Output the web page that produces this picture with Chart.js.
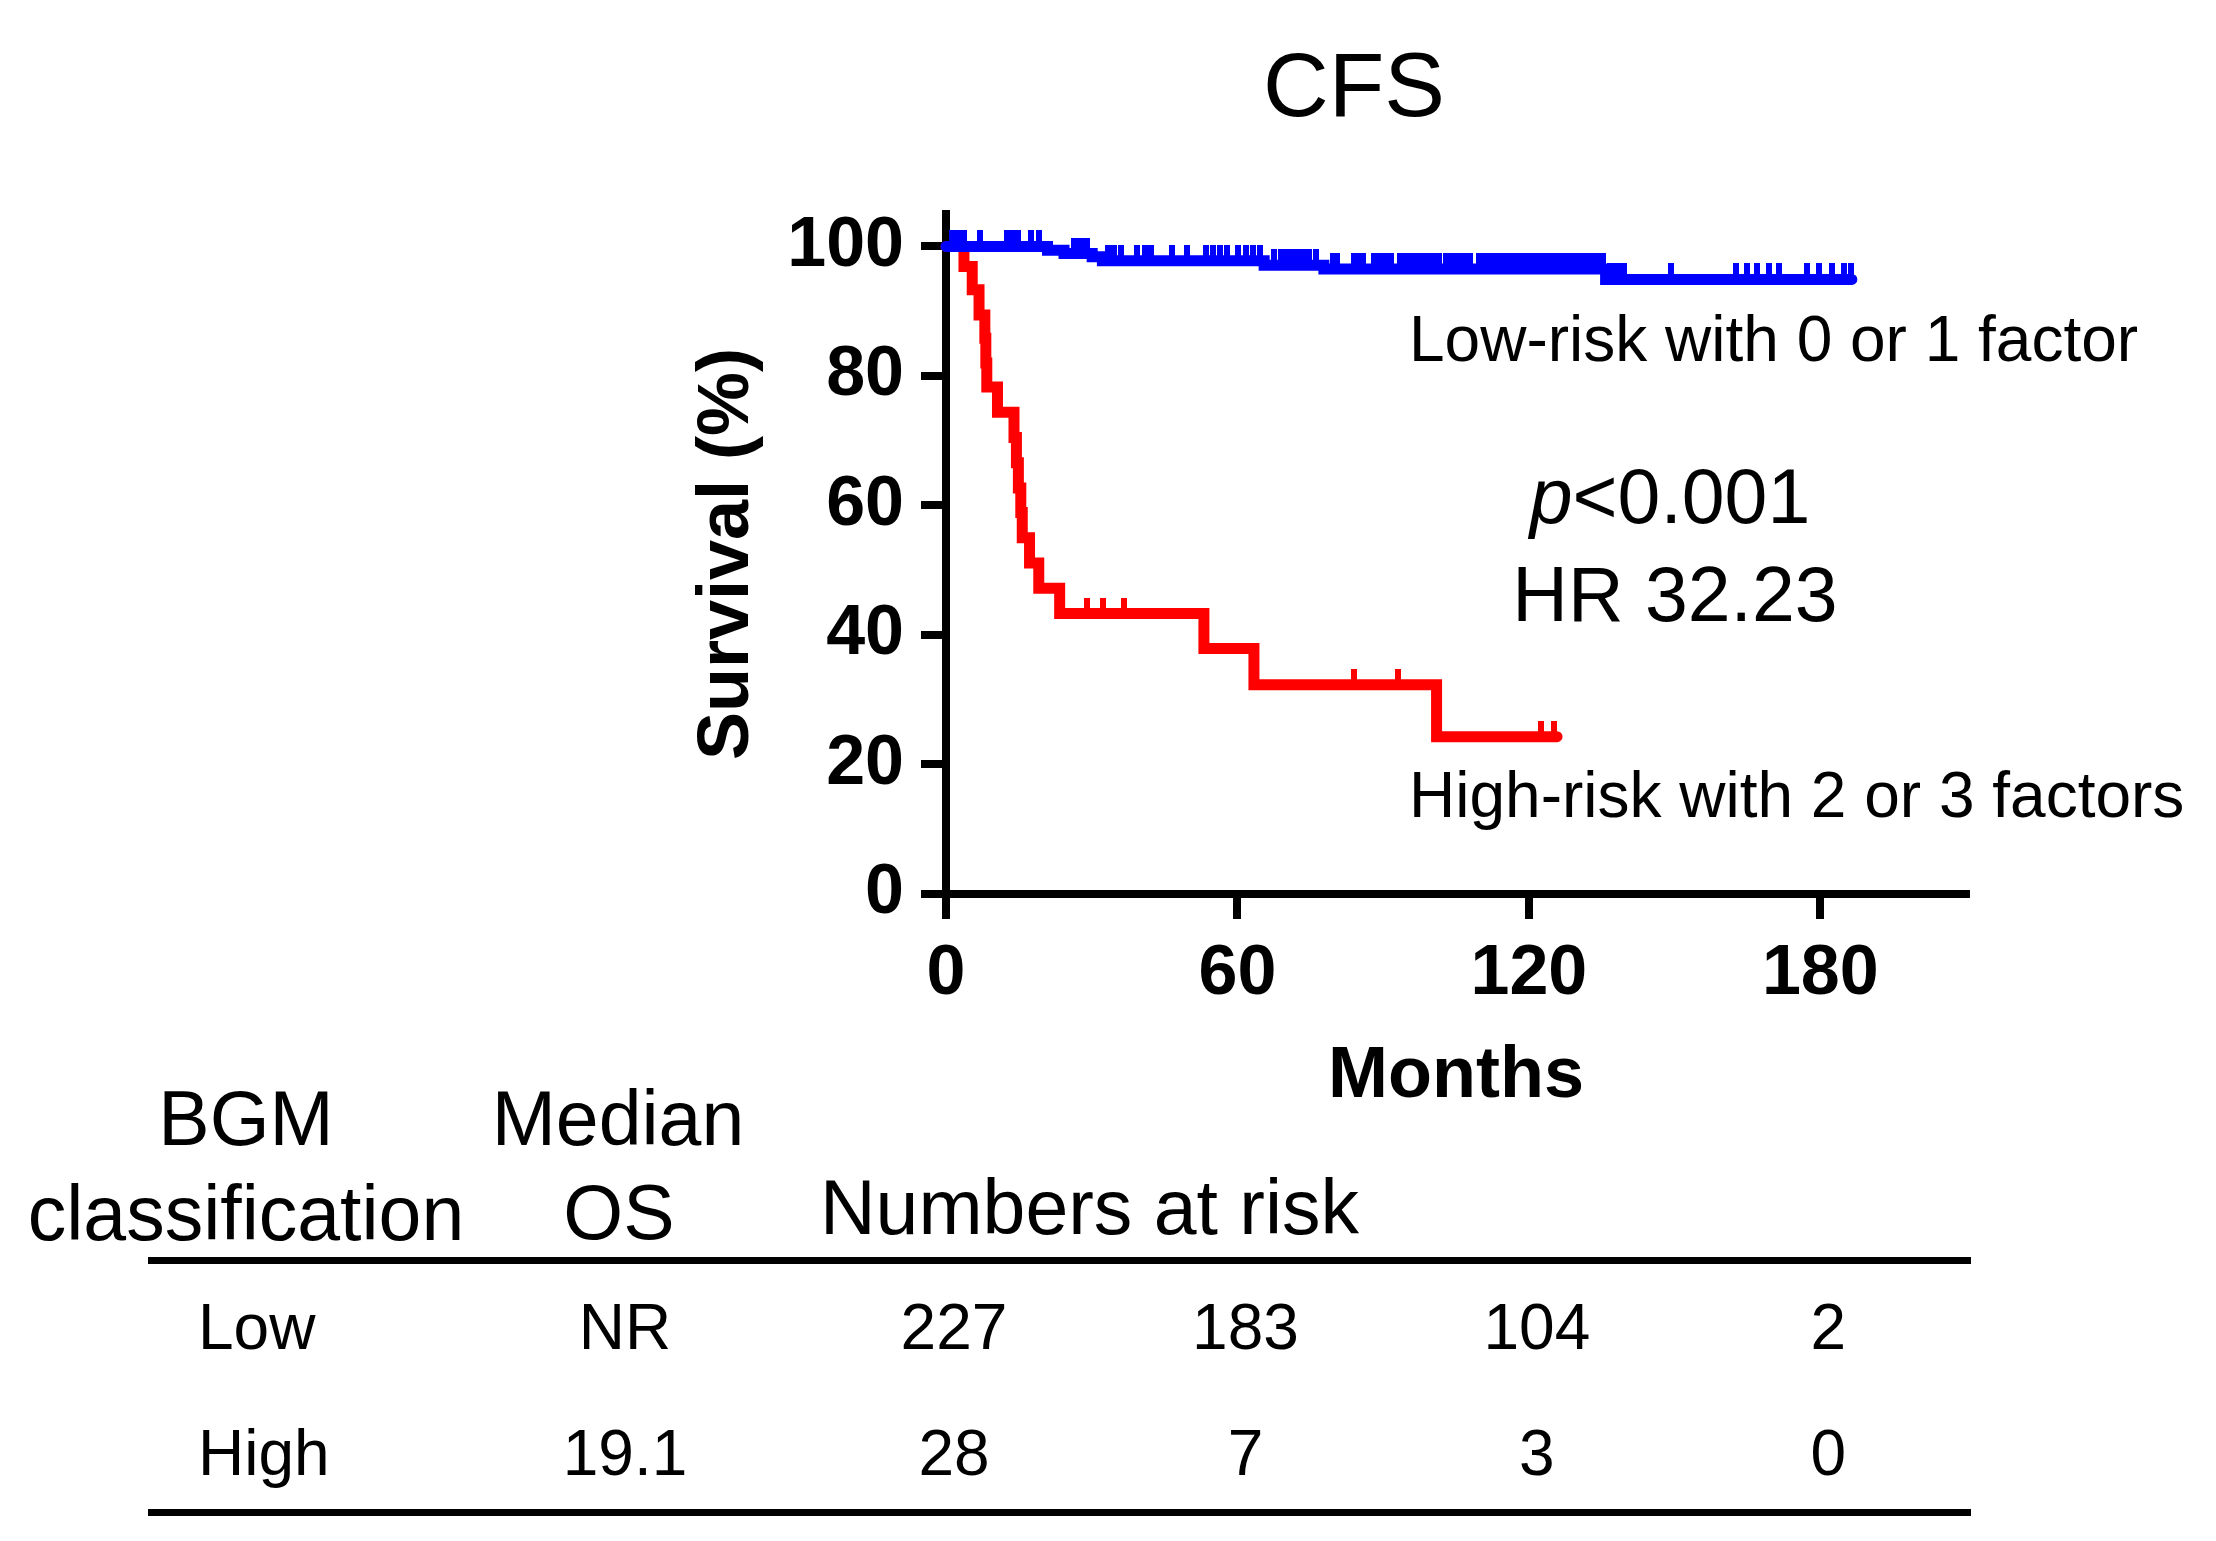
<!DOCTYPE html>
<html>
<head>
<meta charset="utf-8">
<script src="https://cdn.jsdelivr.net/npm/chart.js@4.4.1/dist/chart.umd.min.js"></script>
<style>
  html, body { margin: 0; padding: 0; background: #fff; }
  canvas { display: block; }
</style>
</head>
<body>
<canvas id="km" width="2216" height="1541"></canvas>
<script>
// Kaplan-Meier CFS: low vs high risk
const lowTimes = [0, 20.9, 24.3, 30.1, 32.2, 65.5, 77.8, 135.8, 186.5];
const lowSurv  = [100, 99.4, 98.9, 98.4, 97.8, 97.1, 96.5, 94.9, 94.9];
const lowCensor = [
  1.2, 2.1, 2.9, 3.7, 7.1, 12.6, 13.7, 14.8, 17.4, 19.1,
  26.4, 27.3, 28.2, 29.1,
  33.3, 34.6, 36.0, 39.4, 41.0, 42.3, 46.5, 49.6, 53.5, 54.9, 56.4, 57.9, 60.1, 61.7, 63.2, 64.7,
  67.6, 68.9, 70.1, 71.2, 72.5, 73.7, 74.8, 76.1,
  79.6, 80.6, 84.0, 84.9, 85.8, 88.1, 89.0, 89.9, 90.8, 91.7,
  93.4, 94.2, 95.0, 95.8, 96.6, 97.4, 98.2, 99.0, 99.8, 100.6, 101.4,
  103.0, 103.8, 104.6, 105.4, 106.2, 107.0, 107.8,
  109.8, 110.6, 111.4, 112.2, 113.0, 113.8, 114.6, 115.4, 116.2, 117.0, 117.8, 118.6, 119.4,
  120.2, 121.0, 121.8, 122.6, 123.4, 124.2, 125.0, 125.8, 126.6, 127.4, 128.2, 129.0, 129.8,
  130.6, 131.4, 132.2, 133.0, 133.8, 134.6, 135.3,
  136.8, 137.7, 138.6, 139.5, 149.2, 162.6, 165.0, 167.0, 169.4, 171.5, 177.3, 179.7, 182.4, 184.8, 186.3
];

const highTimes = [0, 3.7, 5.4, 6.8, 8.0, 8.2, 8.4, 10.6, 14.0, 14.5, 14.9, 15.4, 15.7, 17.2, 19.1, 23.4, 53.1, 63.4, 101.0, 125.8];
const highSurv  = [100, 96.9, 93.3, 89.4, 85.8, 82.0, 78.3, 74.4, 70.5, 66.6, 62.7, 58.9, 55.0, 51.1, 47.2, 43.3, 37.9, 32.3, 24.3, 24.3];
const highCensor = [29.1, 32.4, 36.7, 83.9, 93.1, 122.4, 125.2];

const xTicks = [0, 60, 120, 180];
const yTicks = [0, 20, 40, 60, 80, 100];

// numbers at risk table
const riskGroups = ['Low', 'High'];
const medianOS = ['NR', '19.1'];
const riskLow = [227, 183, 104, 2];
const riskHigh = [28, 7, 3, 0];

const FONT = '"Liberation Sans", Arial, sans-serif';
const BLUE = '#0000ff';
const RED = '#ff0000';

// survival value of a step curve at time t
const survAt = (times, surv, t) => {
  let v = surv[0];
  for (let i = 0; i < times.length; i++) {
    if (times[i] <= t) v = surv[i];
  }
  return v;
};

// censor mark: short vertical tick sitting on top of the line
const makeTick = (color) => {
  const c = document.createElement('canvas');
  c.width = 6;
  c.height = 32;
  const g = c.getContext('2d');
  g.fillStyle = color;
  g.fillRect(0, 0, 6, 16);
  return c;
};

const textPlugin = {
  id: 'kmText',
  afterDraw(chart) {
    const ctx = chart.ctx;
    const xs = chart.scales.x;
    ctx.save();
    ctx.fillStyle = '#000';
    ctx.textBaseline = 'alphabetic';

    // title
    ctx.font = '91px ' + FONT;
    ctx.textAlign = 'center';
    ctx.fillText('CFS', 1354, 116);

    // curve labels
    ctx.font = '64px ' + FONT;
    ctx.textAlign = 'left';
    ctx.fillText('Low-risk with 0 or 1 factor', 1409, 361);
    ctx.fillText('High-risk with 2 or 3 factors', 1409, 817);

    // p value and HR
    ctx.font = 'italic 77px ' + FONT;
    const wp = ctx.measureText('p').width;
    ctx.font = '77px ' + FONT;
    const wr = ctx.measureText('<0.001').width;
    const px = 1670 - (wp + wr) / 2;
    ctx.font = 'italic 77px ' + FONT;
    ctx.fillText('p', px, 523);
    ctx.font = '77px ' + FONT;
    ctx.fillText('<0.001', px + wp, 523);
    ctx.textAlign = 'center';
    ctx.fillText('HR 32.23', 1675, 621);

    // table header
    ctx.font = '77px ' + FONT;
    ctx.fillText('BGM', 246, 1145);
    ctx.fillText('classification', 246, 1240);
    ctx.fillText('Median', 618, 1145);
    ctx.fillText('OS', 619, 1239);
    ctx.textAlign = 'left';
    ctx.fillText('Numbers at risk', 820, 1234);

    ctx.fillRect(148, 1257, 1823, 7);
    ctx.fillRect(148, 1509, 1823, 7);

    // table rows
    const rows = [riskLow, riskHigh];
    const baselines = [1349, 1475];
    ctx.font = '64px ' + FONT;
    riskGroups.forEach((g, r) => {
      ctx.textAlign = 'left';
      ctx.fillText(g, 198, baselines[r]);
      ctx.textAlign = 'center';
      ctx.fillText(medianOS[r], 625, baselines[r]);
      rows[r].forEach((n, i) => {
        ctx.fillText(String(n), xs.getPixelForValue(xTicks[i]) + 8, baselines[r]);
      });
    });
    ctx.restore();
  }
};

const tickFont = { family: FONT, size: 70, weight: 'bold' };

new Chart(document.getElementById('km'), {
  type: 'line',
  data: {
    datasets: [
      {
        label: 'Low-risk',
        data: lowTimes.map((t, i) => ({ x: t, y: lowSurv[i] })),
        borderColor: BLUE,
        borderWidth: 11,
        stepped: 'before',
        pointRadius: 0,
        fill: false,
        borderCapStyle: 'round',
        borderJoinStyle: 'miter',
        clip: false
      },
      {
        label: 'Low-risk censored',
        type: 'scatter',
        data: lowCensor.map(t => ({ x: t, y: survAt(lowTimes, lowSurv, t) })),
        pointStyle: makeTick(BLUE),
        pointRadius: 5,
        showLine: false,
        clip: false
      },
      {
        label: 'High-risk',
        data: highTimes.map((t, i) => ({ x: t, y: highSurv[i] })),
        borderColor: RED,
        borderWidth: 11,
        stepped: 'before',
        pointRadius: 0,
        fill: false,
        borderCapStyle: 'round',
        borderJoinStyle: 'miter',
        clip: false
      },
      {
        label: 'High-risk censored',
        type: 'scatter',
        data: highCensor.map(t => ({ x: t, y: survAt(highTimes, highSurv, t) })),
        pointStyle: makeTick(RED),
        pointRadius: 5,
        showLine: false,
        clip: false
      }
    ]
  },
  options: {
    responsive: false,
    devicePixelRatio: 1,
    animation: false,
    events: [],
    layout: { padding: { top: 214, left: 685, right: 250, bottom: 421 } },
    plugins: {
      legend: { display: false },
      tooltip: { enabled: false },
      title: { display: false }
    },
    scales: {
      x: {
        type: 'linear',
        min: 0,
        max: 210,
        afterBuildTicks: s => { s.ticks = xTicks.map(v => ({ value: v })); },
        afterFit: s => { s.height = 226; },
        ticks: { color: '#000', font: tickFont, padding: 14, maxRotation: 0, autoSkip: false },
        grid: { drawOnChartArea: false, drawTicks: true, tickLength: 25, color: '#000', lineWidth: 8 },
        border: { display: true, color: '#000', width: 8 },
        title: { display: true, text: 'Months', color: '#000', font: { family: FONT, size: 72, weight: 'bold' }, padding: 0 }
      },
      y: {
        type: 'linear',
        min: 0,
        max: 105,
        afterBuildTicks: s => { s.ticks = yTicks.map(v => ({ value: v })); },
        afterFit: s => { s.width = 261; },
        ticks: { color: '#000', font: tickFont, padding: 17, autoSkip: false },
        grid: { drawOnChartArea: false, drawTicks: true, tickLength: 25, color: '#000', lineWidth: 8 },
        border: { display: true, color: '#000', width: 8 },
        title: { display: true, text: 'Survival (%)', color: '#000', font: { family: FONT, size: 72, weight: 'bold' }, padding: 0 }
      }
    }
  },
  plugins: [textPlugin]
});
</script>
</body>
</html>
